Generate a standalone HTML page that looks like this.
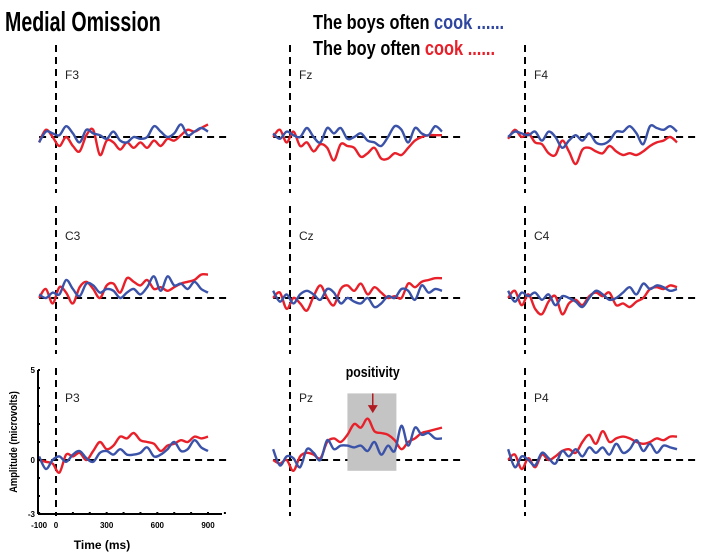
<!DOCTYPE html>
<html><head><meta charset="utf-8"><style>
html,body{margin:0;padding:0;background:#fff;}
svg{display:block;}
.t{font-family:"Liberation Sans",sans-serif;}
</style></head><body>
<svg id="c" width="708" height="555" viewBox="0 0 708 555" xmlns="http://www.w3.org/2000/svg">
<text class="t" x="5" y="31" font-size="28" font-weight="bold" transform="translate(5,0) scale(0.7,1) translate(-5,0)">Medial Omission</text>
<g>
<text class="t" x="313" y="29" font-size="20" font-weight="bold" transform="translate(313,0) scale(0.82,1) translate(-313,0)">The boys often <tspan fill="#2f46a0">cook ......</tspan></text>
<text class="t" x="313" y="55" font-size="20" font-weight="bold" transform="translate(313,0) scale(0.82,1) translate(-313,0)">The boy often <tspan fill="#e8202a">cook ......</tspan></text>
</g>
<g id="panels"></g>
</svg>
<script>
const channels=["F3","Fz","F4","C3","Cz","C4","P3","Pz","P4"];
const times=[-100,-60,-20,20,60,100,140,180,220,260,300,340,380,420,460,500,540,580,620,660,700,740,780,820,860,900];
const blueF3=[-0.3,0.3,0.2,0.1,0.6,0.2,-0.3,0.4,0.2,0.1,-0.1,0.3,-0.2,-0.3,0,-0.1,0,0.6,0.3,0,0.2,0.7,0.1,0.3,0.5,0.3];
const redF3=[-0.3,0.4,0,-0.5,0,-0.5,-0.8,0.1,0.4,-1.0,-0.2,-0.3,-0.7,-0.3,-0.6,-0.3,-0.6,-0.2,-0.5,-0.1,-0.2,0.1,0.4,0.3,0.5,0.7];
const blueFz=[0.2,-0.1,0.3,0.1,0,0.5,0,-0.3,0.5,0.2,0.5,-0.1,0,0.2,-0.2,-0.3,-0.5,0,0.6,0.4,-0.3,0.5,0.2,0.1,0.6,0.3];
const redFz=[0,0.4,-0.3,0.3,-0.5,-0.3,-0.8,-0.4,-0.6,-1.3,-0.4,-0.5,-0.6,-1.1,-0.9,-0.6,-1.2,-1.2,-0.9,-1.0,-0.6,-0.2,0,0.1,0.1,0.1];
const blueF4=[0,0.3,0.2,0.1,0.3,-0.2,0.3,0,-0.6,-0.2,0.1,-0.2,0.2,-0.3,-0.4,-0.2,0.3,0.3,0.6,0.2,-0.4,0.6,0.5,0.4,0.6,0.3];
const redF4=[-0.1,0.4,0,0.2,-0.3,-0.4,-0.9,-1.0,-0.2,-0.8,-1.5,-0.7,-0.6,-0.8,-0.9,-0.5,-0.8,-1.0,-0.9,-1.0,-0.8,-0.5,-0.3,-0.2,0,-0.3];
const blueC3=[0.2,0,0.3,0.2,1.0,0.5,0.1,0.8,0.7,0.3,0.5,0.4,0,0.3,0.5,0.2,0.6,1.2,0.4,1.2,0.7,0.8,0.5,0.9,0.5,0.3];
const redC3=[0,0.5,-0.3,0.6,0.3,-0.3,0.6,0.9,0.5,0,0.7,0.8,0.3,1.1,0.9,0.7,1.0,0.5,0.6,0.4,0.6,0.8,0.9,1.0,1.3,1.3];
const blueCz=[0.4,-0.2,0.2,-0.3,0.2,0.4,0.2,-0.1,0.5,0.3,-0.3,0,-0.2,-0.3,0,-0.5,-0.3,0.1,0,0.5,0.4,-0.1,0.7,0.3,0.5,0.4];
const redCz=[0,0.3,-0.6,0,-0.3,-0.7,0.1,0.7,0,-0.4,0.5,0.7,0.4,0.8,0.2,0.6,0.3,0,0.1,0,0.8,0.6,0.9,1.0,1.1,1.1];
const blueC4=[0.4,-0.2,0.3,0.1,0.3,-0.1,0.2,-0.4,0.1,0,-0.2,-0.5,0,0.4,0.2,-0.1,0,0.3,0.6,0.2,0.8,0.5,0.7,0.6,0.4,0.5];
const redC4=[0,0.4,-0.4,0.2,-0.6,-0.9,-0.2,0.1,-0.9,-0.3,-0.1,-0.4,0.1,0.3,0.1,0.3,-0.4,-0.3,-0.5,-0.2,0,0.5,0.6,0.5,0.7,0.6];
const blueP3=[0.2,-0.5,0,0.2,-0.1,0.3,0.5,0.1,-0.1,0.4,0.5,0.3,0.6,0.3,0.3,0.4,0.7,0.2,0.3,0.6,1.0,0.5,0.6,1.1,0.7,0.5];
const redP3=[0,-0.1,-0.2,-0.7,0.3,0.2,0.4,0,0.5,1.0,0.6,0.8,1.3,1.2,1.5,1.1,1.0,0.9,0.5,0.8,0.9,1.1,1.0,1.3,1.2,1.3];
const bluePz=[0.6,-0.3,0.2,0.1,-0.4,0.6,0.4,0,1.1,0.6,0.8,0.8,0.7,0.8,0.5,1.0,0.3,0.8,0.5,1.9,0.8,1.8,1.4,1.5,1.2,1.2];
const redPz=[0,-0.2,0,-0.6,0.2,0.4,0.3,0.1,1.0,1.2,1.0,1.4,2.0,1.8,2.3,1.6,1.5,1.4,1.1,0.6,1.0,1.2,1.5,1.6,1.7,1.8];
const blueP4=[0.6,-0.4,0.2,0,-0.3,0.4,0.1,-0.2,0.5,0.2,0.6,0.2,0.7,0.4,0.7,0.3,0.9,0.4,0.6,1.1,0.5,0.9,0.4,0.8,0.7,0.6];
const redP4=[0,0.3,-0.5,0.1,-0.4,0.3,0,0.2,0.5,0.6,0.4,1.0,1.4,0.9,1.6,1.0,1.2,1.3,1.2,1.0,0.9,1.0,1.2,1.1,1.3,1.3];
const blueSeries=[blueF3,blueFz,blueF4,blueC3,blueCz,blueC4,blueP3,bluePz,blueP4];
const redSeries=[redF3,redFz,redF4,redC3,redCz,redC4,redP3,redPz,redP4];
const yTicks=[5,0,-3];
const xTicks=[-100,0,300,600,900];

const NS="http://www.w3.org/2000/svg";
const root=document.getElementById('panels');
const colX0=[56,290,525], rowY0=[137,298,460];
const PXMS=152/900, PXUV=18;
function mk(tag,attrs,parent){const e=document.createElementNS(NS,tag);for(const k in attrs)e.setAttribute(k,attrs[k]);(parent||root).appendChild(e);return e;}
function path(pts){let d="M"+pts[0][0]+","+pts[0][1];for(let i=0;i<pts.length-1;i++){const p0=pts[Math.max(0,i-1)],p1=pts[i],p2=pts[i+1],p3=pts[Math.min(pts.length-1,i+2)];d+=" C"+(p1[0]+(p2[0]-p0[0])/6).toFixed(1)+","+(p1[1]+(p2[1]-p0[1])/6).toFixed(1)+" "+(p2[0]-(p3[0]-p1[0])/6).toFixed(1)+","+(p2[1]-(p3[1]-p1[1])/6).toFixed(1)+" "+p2[0].toFixed(1)+","+p2[1].toFixed(1);}return d;}
channels.forEach((ch,i)=>{
  const c=i%3,r=Math.floor(i/3);
  const x0=colX0[c],y0=rowY0[r];
  const xs=t=>x0+t*PXMS, ys=v=>y0-v*PXUV;
  const g=mk('g',{});
  
  
  const vl=mk('line',{x1:x0,x2:x0,y1:y0-92,y2:y0+56,stroke:'#000','stroke-width':2,'stroke-dasharray':'7,5'},g);
  
  
  const hl=mk('line',{x1:xs(-100),x2:xs(1030),y1:y0,y2:y0,stroke:'#000','stroke-width':2,'stroke-dasharray':'7,5'},g);
  
  
  const lb=mk('text',{x:x0+9,y:y0-58,'font-size':12,fill:'#222','font-family':'Liberation Sans, sans-serif'},g);
  lb.textContent=ch;
  
  
  if(ch==='Pz'){
    const box=mk('rect',{x:xs(340),y:ys(3.7),width:xs(630)-xs(340),height:ys(-0.6)-ys(3.7),fill:'#c4c4c4'},g);
    
    
  }
  [[redSeries[i],'#e8202a','red'],[blueSeries[i],'#3a52a8','blue']].forEach(([vals,col,nm])=>{
    const p=mk('path',{d:path(times.map((t,k)=>[xs(t),ys(vals[k])])),fill:'none',stroke:col,'stroke-width':2.4,'stroke-linejoin':'round'},g);
    
    
  });
  if(ch==='Pz'){
    const ax=xs(490);
    const a=mk('line',{x1:ax,x2:ax,y1:ys(3.7),y2:ys(3.0),stroke:'#b01c22','stroke-width':1.5},g);
    
    
    const ah=mk('polygon',{points:(ax-5)+","+ys(3.05)+" "+(ax+5)+","+ys(3.05)+" "+ax+","+(ys(3.05)+8),fill:'#b01c22'},g);
    
    
    const pt=mk('text',{x:ax,y:ys(4.6),'font-size':15,'font-weight':'bold','text-anchor':'middle','font-family':'Liberation Sans, sans-serif',transform:`translate(${ax},0) scale(0.82,1) translate(${-ax},0)`},g);
    pt.textContent='positivity';
    
    
  }
  if(ch==='P3'){
    const axX=38, axB=ys(-3)+0;
    const ya=mk('line',{x1:axX,x2:axX,y1:ys(5),y2:axB,stroke:'#000','stroke-width':2},g);
    
    
    const xa=mk('line',{x1:axX,x2:222,y1:axB,y2:axB,stroke:'#000','stroke-width':2},g);
    
    
    for(let v=-3;v<=5;v++){mk('line',{x1:axX,x2:axX+2,y1:ys(v),y2:ys(v),stroke:'#000','stroke-width':2},g);}
    for(let t=-100;t<=1000;t+=100){mk('line',{x1:xs(t),x2:xs(t),y1:axB-2,y2:axB,stroke:'#000','stroke-width':2},g);}
    yTicks.forEach(v=>{const tt=mk('text',{x:axX-3,y:ys(v)+3,'font-size':8,'font-weight':'bold','text-anchor':'end','font-family':'Liberation Sans, sans-serif'},g);tt.textContent=v;
      
      });
    xTicks.forEach(t=>{const tt=mk('text',{x:xs(t),y:axB+14,'font-size':8,'font-weight':'bold','text-anchor':'middle','font-family':'Liberation Sans, sans-serif'},g);tt.textContent=t;
      
      });
    const xt=mk('text',{x:102,y:axB+35,'font-size':12,'font-weight':'bold','text-anchor':'middle','font-family':'Liberation Sans, sans-serif'},g);
    xt.textContent='Time (ms)';
    
    
    const yt=mk('text',{x:0,y:0,'font-size':11,'font-weight':'bold','text-anchor':'middle','font-family':'Liberation Sans, sans-serif',transform:`translate(17,${ys(1)}) rotate(-90) scale(0.85,1)`},g);
    yt.textContent='Amplitude (microvolts)';
    
    
  }
});
</script>
</body></html>
